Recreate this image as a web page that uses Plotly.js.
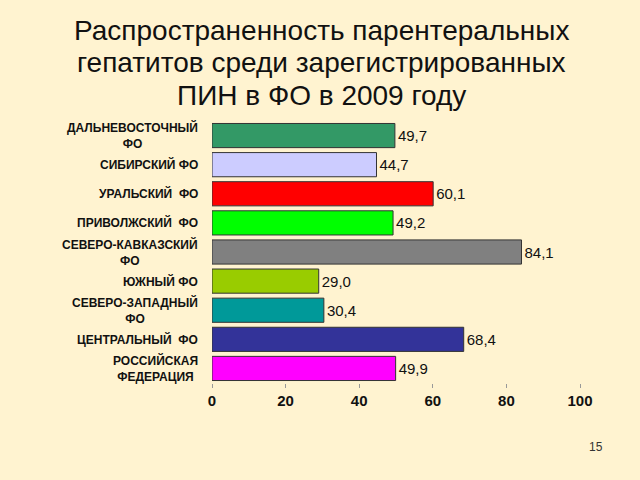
<!DOCTYPE html>
<html>
<head>
<meta charset="utf-8">
<script src="https://cdn.plot.ly/plotly-3.0.1.min.js"></script>
<style>html,body{margin:0;padding:0;background:#FFF3D0;}#chart{width:640px;height:480px;}</style>
</head>
<body>
<div id="chart"></div>
<script>
const categories = [
  "ДАЛЬНЕВОСТОЧНЫЙ<br>ФО",
  "СИБИРСКИЙ ФО",
  "УРАЛЬСКИЙ  ФО",
  "ПРИВОЛЖСКИЙ  ФО",
  "СЕВЕРО-КАВКАЗСКИЙ<br>ФО",
  "ЮЖНЫЙ ФО",
  "СЕВЕРО-ЗАПАДНЫЙ<br>ФО",
  "ЦЕНТРАЛЬНЫЙ  ФО",
  "РОССИЙСКАЯ<br>ФЕДЕРАЦИЯ"
];
const values = [49.7, 44.7, 60.1, 49.2, 84.1, 29.0, 30.4, 68.4, 49.9];
const barColors = ["#339966", "#CCCCFF", "#FF0000", "#00FF00", "#808080", "#99CC00", "#009999", "#333399", "#FF00FF"];
const xTicks = [0, 20, 40, 60, 80, 100];
const titleLines = ["Распространенность парентеральных", "гепатитов среди зарегистрированных", "ПИН в ФО в 2009 году"];
const pageNumber = "15";

const FONT = "Liberation Sans, Arial, sans-serif";
const ML = 212, MR = 60, MT = 121, MB = 97;
const PW = 640 - ML - MR, PH = 480 - MT - MB;

const trace = {
  type: "bar",
  orientation: "h",
  y: categories.map((c, i) => i),
  x: values,
  marker: {color: barColors, line: {color: "#333333", width: 1}},
  text: values.map(v => v.toFixed(1).replace(".", ",")),
  textposition: "outside",
  cliponaxis: false,
  textfont: {family: FONT, size: 15, color: "#111111"},
  width: 0.83,
  hoverinfo: "none"
};

const annotations = categories.map((c, i) => ({
  text: c, xref: "paper", yref: "y",
  x: -12 / PW, y: i, xanchor: "right", yanchor: "middle", align: "center",
  showarrow: false,
  font: {family: FONT, size: 12, color: "#111111", weight: "bold"}
}));
const titleY = [30, 63, 96];
titleLines.forEach((t, k) => annotations.push({
  text: t, xref: "paper", yref: "paper",
  x: (321 - ML) / PW, y: 1 + (MT - titleY[k]) / PH, xanchor: "center", yanchor: "middle",
  showarrow: false,
  font: {family: FONT, size: 28, color: "#111111"}
}));
annotations.push({
  text: pageNumber, xref: "paper", yref: "paper",
  x: (596 - ML) / PW, y: -(447 - (480 - MB)) / PH, xanchor: "center", yanchor: "middle",
  showarrow: false,
  font: {family: FONT, size: 12, color: "#333333"}
});

const layout = {
  width: 640, height: 480,
  paper_bgcolor: "#FFF3D0",
  plot_bgcolor: "#FFF3D0",
  margin: {l: ML, r: MR, t: MT, b: MB},
  showlegend: false,
  xaxis: {
    range: [0, 100],
    tickvals: xTicks,
    ticktext: xTicks.map(String),
    showgrid: false, zeroline: false, showline: false,
    ticks: "outside", ticklen: 4, tickcolor: "#999999",
    tickfont: {family: FONT, size: 15, color: "#111111", weight: "bold"}
  },
  yaxis: {
    range: [8.5, -0.5],
    showticklabels: false,
    showgrid: false, zeroline: false, showline: false,
    ticks: ""
  },
  annotations: annotations
};

Plotly.newPlot("chart", [trace], layout, {displayModeBar: false, staticPlot: true});
</script>
</body>
</html>
